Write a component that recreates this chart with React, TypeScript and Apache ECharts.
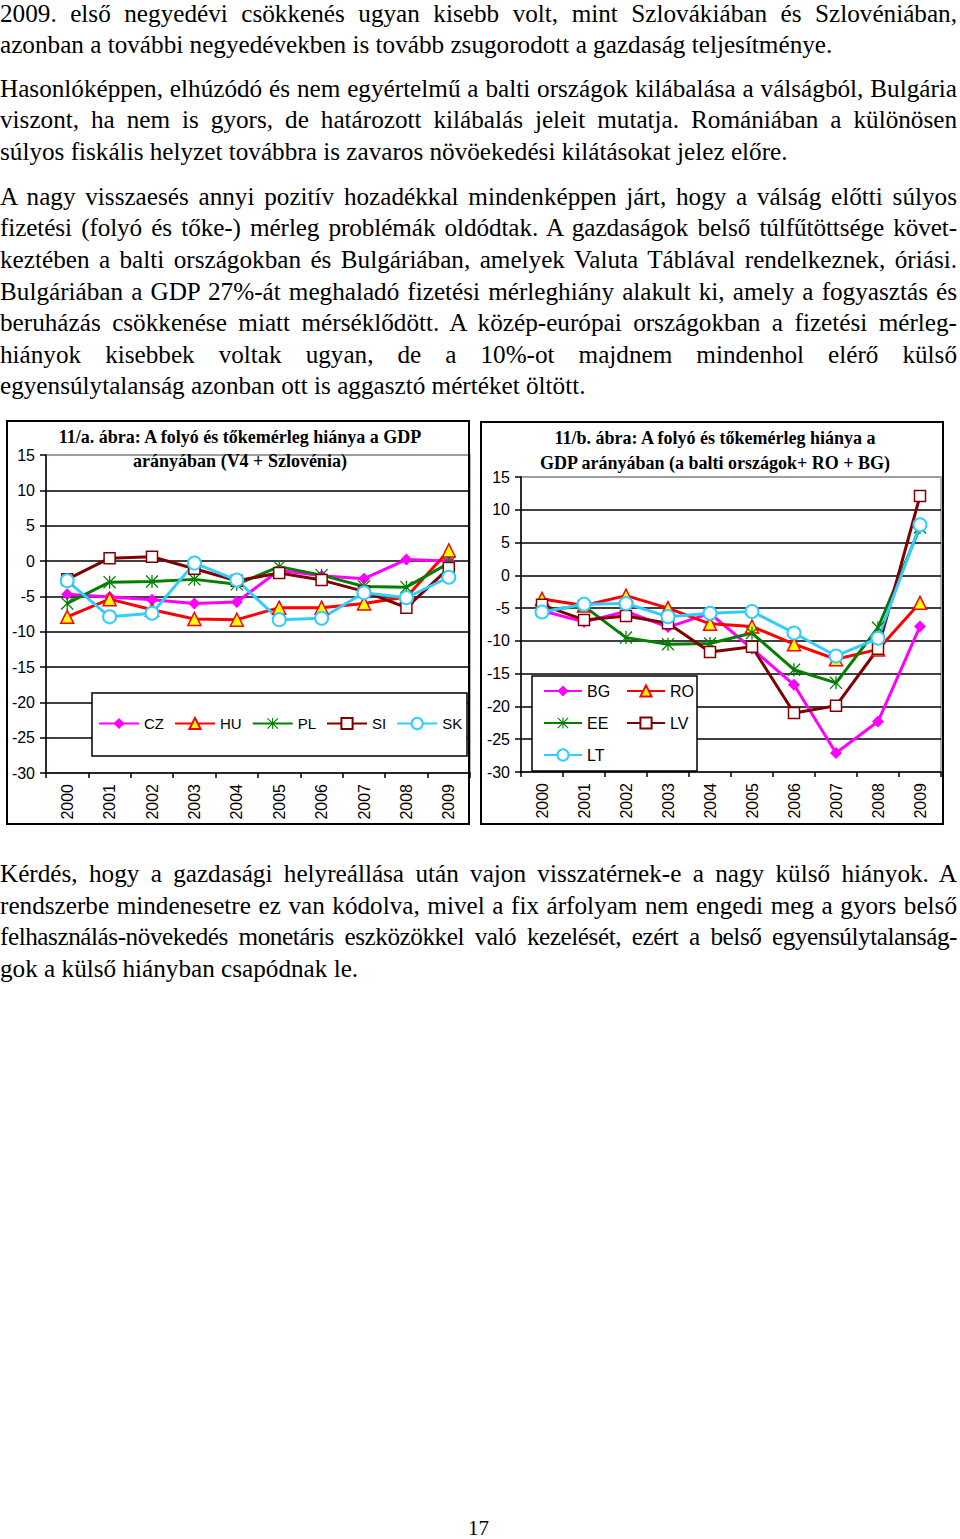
import React, { useEffect, useRef } from 'react';
import * as echarts from 'echarts';

const years = ['2000', '2001', '2002', '2003', '2004', '2005', '2006', '2007', '2008', '2009'];

// 11/a (V4 + Slovenia)
const cz = [-4.7, -5.1, -5.5, -6.0, -5.8, -1.3, -2.1, -2.5, 0.2, 0.0];
const hu = [-7.9, -5.4, -6.9, -8.2, -8.3, -6.6, -6.6, -6.0, -5.1, 1.5];
const pl = [-6.0, -3.0, -2.9, -2.6, -3.3, -0.8, -2.0, -3.6, -3.7, -0.3];
const si = [-2.6, 0.4, 0.6, -1.1, -2.8, -1.7, -2.7, -4.3, -6.6, -1.0];
const sk = [-2.8, -7.9, -7.4, -0.3, -2.7, -8.3, -8.1, -4.5, -5.2, -2.3];

// 11/b (Baltics + RO + BG)
const bg = [-5.4, -7.1, -5.5, -7.9, -5.8, -11.2, -16.7, -27.1, -22.3, -7.8];
const ro = [-3.6, -4.6, -3.1, -5.0, -7.4, -7.8, -10.5, -12.8, -11.3, -4.2];
const ee = [-5.3, -4.7, -9.5, -10.5, -10.4, -8.8, -14.4, -16.4, -8.0, 7.3];
const lv = [-4.5, -6.8, -6.2, -7.3, -11.7, -10.9, -21.0, -19.9, -11.2, 12.1];
const lt = [-5.6, -4.4, -4.3, -6.3, -5.8, -5.5, -8.8, -12.3, -9.6, 7.7];

const titleA = ['11/a. ábra: A folyó és tőkemérleg hiánya a GDP', 'arányában (V4 + Szlovénia)'];
const titleB = ['11/b. ábra: A folyó és tőkemérleg hiánya a', 'GDP arányában (a balti országok+ RO + BG)'];

// text, line centre y, justified, letter spacing
const bodyLines: [string, number, boolean, number][] = [
  ['2009. első negyedévi csökkenés ugyan kisebb volt, mint Szlovákiában és Szlovéniában,', 14, true, 0],
  ['azonban a további negyedévekben is tovább zsugorodott a gazdaság teljesítménye.', 45, false, 0],
  ['Hasonlóképpen, elhúzódó és nem egyértelmű a balti országok kilábalása a válságból, Bulgária', 89, true, 0],
  ['viszont, ha nem is gyors, de határozott kilábalás jeleit mutatja. Romániában a különösen', 120, true, 0],
  ['súlyos fiskális helyzet továbbra is zavaros növöekedési kilátásokat jelez előre.', 152, false, 0],
  ['A nagy visszaesés annyi pozitív hozadékkal mindenképpen járt, hogy a válság előtti súlyos', 197, true, 0],
  ['fizetési (folyó és tőke-) mérleg problémák oldódtak. A gazdaságok belső túlfűtöttsége követ-', 228, true, -0.1],
  ['keztében a balti országokban és Bulgáriában, amelyek Valuta Táblával rendelkeznek, óriási.', 260, true, 0],
  ['Bulgáriában a GDP 27%-át meghaladó fizetési mérleghiány alakult ki, amely a fogyasztás és', 292, true, 0],
  ['beruházás csökkenése miatt mérséklődött. A közép-európai országokban a fizetési mérleg-', 323, true, 0],
  ['hiányok kisebbek voltak ugyan, de a 10%-ot majdnem mindenhol elérő külső', 355, true, 0],
  ['egyensúlytalanság azonban ott is aggasztó mértéket öltött.', 386, false, 0],
  ['Kérdés, hogy a gazdasági helyreállása után vajon visszatérnek-e a nagy külső hiányok. A', 874, true, 0],
  ['rendszerbe mindenesetre ez van kódolva, mivel a fix árfolyam nem engedi meg a gyors belső', 906, true, 0],
  ['felhasználás-növekedés monetáris eszközökkel való kezelését, ezért a belső egyensúlytalanság-', 937, true, -0.45],
  ['gok a külső hiányban csapódnak le.', 969, false, 0],
];

const STAR =
  'path://M9,0 L11,0 L11,20 L9,20 Z M0,1.4 L1.4,0 L20,18.6 L18.6,20 Z M18.6,0 L20,1.4 L1.4,20 L0,18.6 Z';

type Kind = 'diamond' | 'triangle' | 'star' | 'square' | 'circle';

const kindStyle: Record<Kind, any> = {
  diamond: {
    symbol: 'diamond',
    symbolSize: 12,
    itemStyle: { color: '#FF00FF' },
    lineColor: '#FF00FF',
  },
  triangle: {
    symbol: 'triangle',
    symbolSize: 13,
    itemStyle: { color: '#FFFF00', borderColor: '#FF0000', borderWidth: 1.5 },
    lineColor: '#FF0000',
  },
  star: {
    symbol: STAR,
    symbolSize: 13,
    itemStyle: { color: '#008000' },
    lineColor: '#008000',
  },
  square: {
    symbol: 'rect',
    symbolSize: 11,
    itemStyle: { color: '#FFFFFF', borderColor: '#800000', borderWidth: 1.5 },
    lineColor: '#800000',
  },
  circle: {
    symbol: 'circle',
    symbolSize: 13,
    itemStyle: { color: '#FFFFFF', borderColor: '#33CCFF', borderWidth: 2 },
    lineColor: '#33CCFF',
  },
};

function mkSeries(name: string, data: number[], kind: Kind, idx: number) {
  const k = kindStyle[kind];
  return {
    type: 'line',
    name,
    data,
    xAxisIndex: idx * 2,
    yAxisIndex: idx,
    symbol: k.symbol,
    symbolSize: k.symbolSize,
    showAllSymbol: true,
    itemStyle: k.itemStyle,
    lineStyle: { color: k.lineColor, width: 3 },
    emphasis: { disabled: true },
  };
}

const splitColors = ['#999', '#000', '#000', '#000', '#000', '#000', '#000', '#000', '#000', '#999'];

function yAxisOf(gridIndex: number) {
  return {
    type: 'value',
    gridIndex,
    min: -30,
    max: 15,
    interval: 5,
    axisLine: { show: true, lineStyle: { color: '#000', width: 1.5 } },
    axisTick: { show: true, length: 6, lineStyle: { color: '#000', width: 1.5 } },
    axisLabel: { fontSize: 16, color: '#000', fontFamily: 'Liberation Sans', margin: 11 },
    splitLine: { show: true, lineStyle: { color: splitColors, width: 1.5 } },
  };
}

function xAxesOf(gridIndex: number) {
  return [
    {
      type: 'category',
      gridIndex,
      data: years,
      position: 'bottom',
      axisLine: { show: false },
      axisTick: { show: false },
      axisLabel: {
        rotate: 90,
        fontSize: 16,
        color: '#000',
        fontFamily: 'Liberation Sans',
        margin: 11,
        interval: 0,
      },
      splitLine: { show: false },
    },
    {
      type: 'category',
      gridIndex,
      data: years,
      position: 'bottom',
      axisLine: { show: true, onZero: true, lineStyle: { color: '#000', width: 1.5 } },
      axisTick: { show: true, length: 5, lineStyle: { color: '#000', width: 1.5 } },
      axisLabel: { show: false },
      splitLine: { show: false },
    },
  ];
}

const OFFY = 400;

function titleTexts(lines: string[], cx: number, ys: number[]) {
  return lines.map((t, i) => ({
    type: 'text',
    x: cx,
    y: ys[i] - OFFY,
    z: 10,
    style: {
      text: t,
      fill: '#000',
      font: 'bold 18px "Liberation Serif", serif',
      align: 'center',
      verticalAlign: 'middle',
    },
  }));
}

const legendText = { fontSize: 15, color: '#000', fontFamily: 'Liberation Sans' };

function ChartBlock() {
  const ref = useRef<HTMLDivElement>(null);
  useEffect(() => {
    if (!ref.current) return;
    const chart = echarts.init(ref.current, undefined, { renderer: 'svg' });
    const option: any = {
      animation: false,
      grid: [
        {
          left: 46,
          top: 455 - OFFY,
          width: 424,
          height: 318,
          show: true,
          borderColor: '#999',
          borderWidth: 1.5,
          backgroundColor: 'transparent',
        },
        {
          left: 521,
          top: 477 - OFFY,
          width: 420,
          height: 295,
          show: true,
          borderColor: '#999',
          borderWidth: 1.5,
          backgroundColor: 'transparent',
        },
      ],
      xAxis: [...xAxesOf(0), ...xAxesOf(1)],
      yAxis: [yAxisOf(0), yAxisOf(1)],
      legend: [
        {
          data: ['CZ', 'HU', 'PL', 'SI', 'SK'],
          orient: 'horizontal',
          left: 98,
          top: 724 - OFFY - 8,
          padding: 0,
          itemWidth: 40,
          itemHeight: 14,
          itemGap: 10,
          selectedMode: false,
          textStyle: legendText,
          z: 6,
        },
        {
          data: ['BG', 'EE', 'LT'],
          orient: 'vertical',
          left: 543,
          top: 691 - OFFY - 8,
          padding: 0,
          itemWidth: 38,
          itemHeight: 14,
          itemGap: 16,
          selectedMode: false,
          textStyle: { ...legendText, fontSize: 16 },
          z: 6,
        },
        {
          data: ['RO', 'LV'],
          orient: 'vertical',
          left: 626,
          top: 691 - OFFY - 8,
          padding: 0,
          itemWidth: 38,
          itemHeight: 14,
          itemGap: 16,
          selectedMode: false,
          textStyle: { ...legendText, fontSize: 16 },
          z: 6,
        },
      ],
      graphic: [
        {
          type: 'rect',
          z: 5,
          shape: { x: 7, y: 421 - OFFY, width: 462, height: 403 },
          style: { fill: 'none', stroke: '#000', lineWidth: 2 },
        },
        {
          type: 'rect',
          z: 5,
          shape: { x: 481, y: 422 - OFFY, width: 462, height: 402 },
          style: { fill: 'none', stroke: '#000', lineWidth: 2 },
        },
        {
          type: 'rect',
          z: 4,
          shape: { x: 92, y: 693 - OFFY, width: 375, height: 63 },
          style: { fill: '#fff', stroke: '#000', lineWidth: 1.5 },
        },
        {
          type: 'rect',
          z: 4,
          shape: { x: 532, y: 676 - OFFY, width: 165, height: 95 },
          style: { fill: '#fff', stroke: '#000', lineWidth: 1.5 },
        },
        ...titleTexts(titleA, 240, [437, 461]),
        ...titleTexts(titleB, 715, [438, 463]),
      ],
      series: [
        mkSeries('CZ', cz, 'diamond', 0),
        mkSeries('HU', hu, 'triangle', 0),
        mkSeries('PL', pl, 'star', 0),
        mkSeries('SI', si, 'square', 0),
        mkSeries('SK', sk, 'circle', 0),
        mkSeries('BG', bg, 'diamond', 1),
        mkSeries('RO', ro, 'triangle', 1),
        mkSeries('EE', ee, 'star', 1),
        mkSeries('LV', lv, 'square', 1),
        mkSeries('LT', lt, 'circle', 1),
      ],
    };
    chart.setOption(option);
    return () => chart.dispose();
  }, []);
  return (
    <div
      ref={ref}
      style={{ position: 'absolute', left: 0, top: OFFY, width: 960, height: 440 }}
    />
  );
}

export default function App() {
  const lh = 32;
  return (
    <div
      style={{
        position: 'absolute',
        left: 0,
        top: 0,
        width: 960,
        height: 1539,
        background: '#fff',
        overflow: 'hidden',
      }}
    >
      {bodyLines.map(([t, cy, j, ls], i) => (
        <div
          key={i}
          style={{
            position: 'absolute',
            left: 0,
            top: cy - lh / 2,
            width: 957,
            height: lh,
            lineHeight: lh + 'px',
            fontFamily: '"Liberation Serif", "Times New Roman", serif',
            fontSize: 25.2,
            letterSpacing: ls + 'px',
            color: '#000',
            textAlign: j ? 'justify' : 'left',
            textAlignLast: j ? 'justify' : 'left',
          } as any}
        >
          {t}
        </div>
      ))}
      <ChartBlock />
      <div
        style={{
          position: 'absolute',
          left: 0,
          width: 957,
          top: 1518,
          height: 20,
          lineHeight: '20px',
          textAlign: 'center',
          fontFamily: '"Liberation Serif", "Times New Roman", serif',
          fontSize: 21,
          color: '#000',
        }}
      >
        17
      </div>
    </div>
  );
}
